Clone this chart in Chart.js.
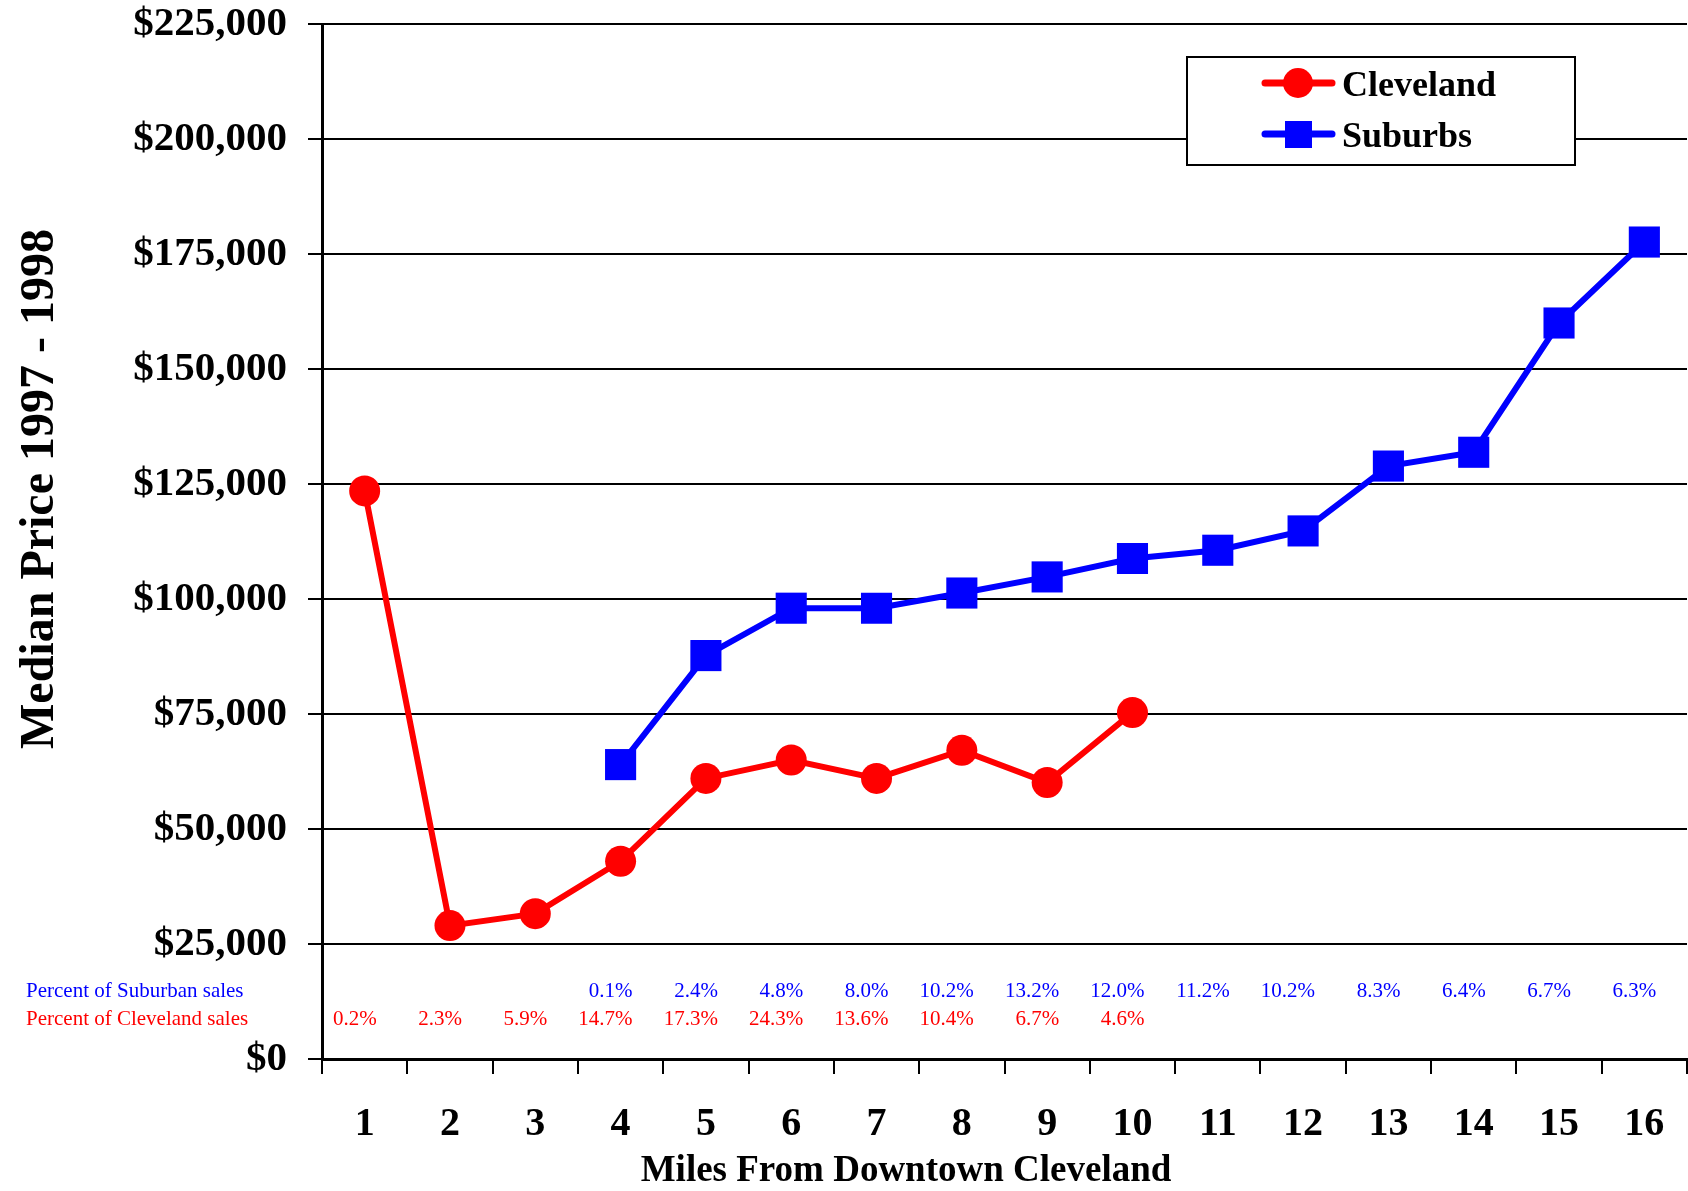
<!DOCTYPE html>
<html>
<head>
<meta charset="utf-8">
<script src="https://cdn.jsdelivr.net/npm/chart.js@4.4.0/dist/chart.umd.min.js"></script>
<style>
  html, body { margin: 0; padding: 0; background: #fff; }
  canvas { display: block; }
</style>
</head>
<body>
<canvas id="priceChart" width="1688" height="1191"></canvas>
<script>
// Miles from downtown (categories)
const miles = ["1", "2", "3", "4", "5", "6", "7", "8", "9", "10", "11", "12", "13", "14", "15", "16"];

// Median price 1997 - 1998
const clevelandPrice = [123500, 29000, 31600, 43000, 61000, 65000, 61000, 67100, 60100, 75300,
  null, null, null, null, null, null];
const suburbsPrice = [null, null, null, 64000, 87700, 98000, 98000, 101300, 104800, 108800,
  110600, 114800, 128900, 131900, 160000, 177600];

// Share of sales by mile band
const suburbPct = ["", "", "", "0.1%", "2.4%", "4.8%", "8.0%", "10.2%", "13.2%", "12.0%",
  "11.2%", "10.2%", "8.3%", "6.4%", "6.7%", "6.3%"];
const clevelandPct = ["0.2%", "2.3%", "5.9%", "14.7%", "17.3%", "24.3%", "13.6%", "10.4%", "6.7%", "4.6%",
  "", "", "", "", "", ""];

const rowLabels = ["Percent of Suburban sales", "Percent of Cleveland sales"];
const yTitle = "Median Price 1997 - 1998";
const xTitle = "Miles From Downtown Cleveland";

const SERIF = "'Liberation Serif', 'Times New Roman', serif";

// keep the plot area exactly where the original has it
function noPadding(scale) {
  scale.paddingTop = 0;
  scale.paddingBottom = 0;
  scale.paddingLeft = 0;
  scale.paddingRight = 0;
}

// draws the titles, the percent rows and the boxed legend
const extrasPlugin = {
  id: "extras",
  afterDraw(chart) {
    const ctx = chart.ctx;
    const x = chart.scales.x;
    ctx.save();

    // percent rows
    ctx.font = "21px " + SERIF;
    ctx.textBaseline = "middle";
    ctx.textAlign = "left";
    ctx.fillStyle = "#0000ff";
    ctx.fillText(rowLabels[0], 26, 991);
    ctx.fillStyle = "#ff0000";
    ctx.fillText(rowLabels[1], 26, 1019);
    ctx.textAlign = "right";
    miles.forEach((m, i) => {
      const px = x.getPixelForValue(i) + 12;
      ctx.fillStyle = "#0000ff";
      if (suburbPct[i]) ctx.fillText(suburbPct[i], px, 991);
      ctx.fillStyle = "#ff0000";
      if (clevelandPct[i]) ctx.fillText(clevelandPct[i], px, 1019);
    });

    // axis titles
    ctx.fillStyle = "#000";
    ctx.font = "bold 48px " + SERIF;
    ctx.textAlign = "center";
    ctx.textBaseline = "alphabetic";
    ctx.save();
    ctx.translate(53, 489);
    ctx.rotate(-Math.PI / 2);
    ctx.fillText(yTitle, 0, 0);
    ctx.restore();
    ctx.font = "bold 37px " + SERIF;
    ctx.fillText(xTitle, 906, 1181);

    // legend box
    ctx.fillStyle = "#fff";
    ctx.fillRect(1187, 57, 388, 108);
    ctx.strokeStyle = "#000";
    ctx.lineWidth = 2;
    ctx.strokeRect(1187, 57, 388, 108);
    const rows = [83, 134];
    chart.data.datasets.forEach((ds, i) => {
      const y = rows[i];
      ctx.strokeStyle = ds.borderColor;
      ctx.lineWidth = 7;
      ctx.lineCap = "round";
      ctx.beginPath();
      ctx.moveTo(1265, y);
      ctx.lineTo(1332, y);
      ctx.stroke();
      ctx.fillStyle = ds.backgroundColor;
      if (ds.pointStyle === "circle") {
        ctx.beginPath();
        ctx.arc(1298, y, 15, 0, Math.PI * 2);
        ctx.fill();
      } else {
        ctx.fillRect(1285, y - 13, 27, 27);
      }
      ctx.fillStyle = "#000";
      ctx.font = "bold 36px " + SERIF;
      ctx.textAlign = "left";
      ctx.textBaseline = "middle";
      ctx.fillText(ds.label, 1342, y + 4);
    });

    ctx.restore();
  }
};

new Chart(document.getElementById("priceChart").getContext("2d"), {
  type: "line",
  data: {
    labels: miles,
    datasets: [
      {
        label: "Cleveland",
        data: clevelandPrice,
        borderColor: "#ff0000",
        backgroundColor: "#ff0000",
        borderWidth: 6,
        pointStyle: "circle",
        pointRadius: 15.5,
        pointBorderWidth: 0,
        tension: 0
      },
      {
        label: "Suburbs",
        data: suburbsPrice,
        borderColor: "#0000ff",
        backgroundColor: "#0000ff",
        borderWidth: 6,
        pointStyle: "rect",
        pointRadius: 22,
        pointBorderWidth: 0,
        tension: 0
      }
    ]
  },
  options: {
    responsive: false,
    animation: false,
    devicePixelRatio: 1,
    layout: {
      autoPadding: false,
      padding: { left: 0, right: 1, top: 24, bottom: 0 }
    },
    plugins: {
      legend: { display: false },
      tooltip: { enabled: false }
    },
    scales: {
      x: {
        offset: true,
        grid: {
          offset: true,
          drawOnChartArea: false,
          drawTicks: true,
          tickLength: 15,
          color: "#000",
          lineWidth: 2
        },
        border: { color: "#000", width: 3 },
        ticks: {
          color: "#000",
          font: { family: SERIF, size: 40, weight: "bold" },
          padding: 27,
          maxRotation: 0,
          autoSkip: false
        },
        afterFit(scale) {
          scale.height = 132;
          noPadding(scale);
        }
      },
      y: {
        min: 0,
        max: 225000,
        grid: { color: "#000", lineWidth: 2, tickLength: 14 },
        border: { color: "#000", width: 3 },
        ticks: {
          stepSize: 25000,
          color: "#000",
          font: { family: SERIF, size: 41, weight: "bold" },
          padding: 21,
          callback: (v) => "$" + v.toLocaleString("en-US")
        },
        afterFit(scale) {
          scale.width = 322;
          noPadding(scale);
        }
      }
    }
  },
  plugins: [extrasPlugin]
});
</script>
</body>
</html>
